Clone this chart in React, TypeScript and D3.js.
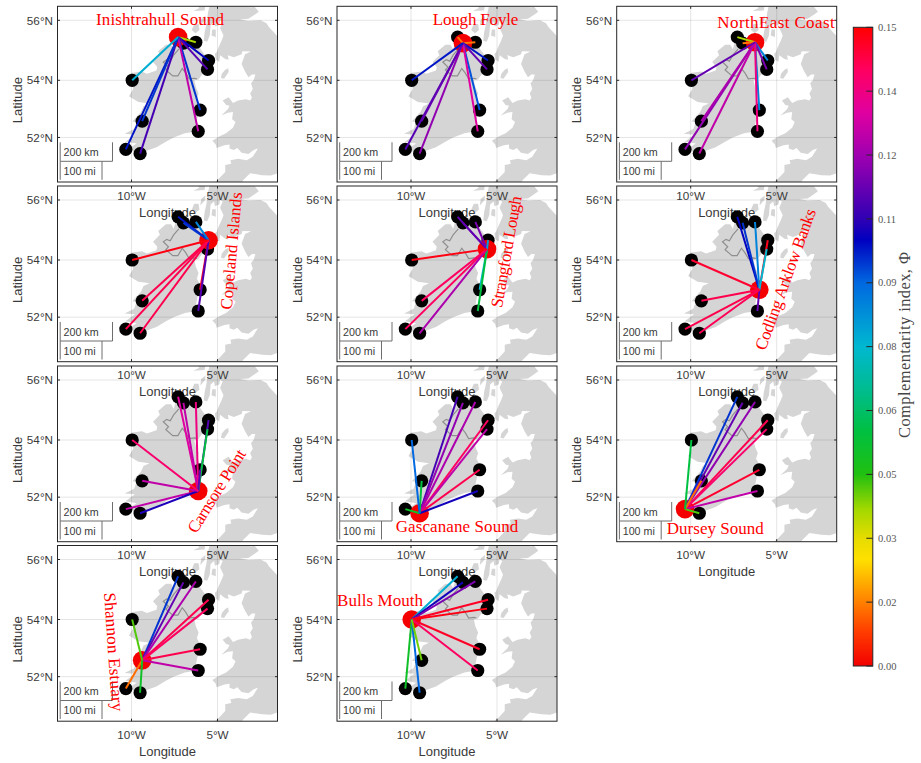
import React from 'react';
import * as d3 from 'd3';

type LonLat = [number, number];

const siteNames = ['Inishtrahull Sound', 'Lough Foyle', 'NorthEast Coast', 'Copeland Islands', 'Strangford Lough',
  'Codling Arklow Banks', 'Carnsore Point', 'Dursey Sound', 'Gascanane Sound', 'Shannon Estuary', 'Bulls Mouth'];

const siteLon = [-7.29, -6.98, -6.26, -5.52, -5.58, -6.01, -6.12, -10.33, -9.5, -9.38, -9.96];
const siteLat = [55.45, 55.25, 55.28, 54.67, 54.37, 52.97, 52.22, 51.57, 51.42, 52.58, 54.0];

// complementarity index per site pair, one row per panel (diagonal unused)
const phi = [
  [0, .014, .036, .1, .11, .095, .125, .098, .108, .095, .077],
  [.014, 0, .014, .098, .112, .092, .13, .11, .118, .112, .098],
  [.036, .014, 0, .085, .115, .085, .135, .118, .125, .122, .112],
  [.098, .095, .085, 0, .08, .146, .11, .142, .142, .142, .148],
  [.112, .112, .115, .08, 0, .075, .055, .14, .122, .14, .148],
  [.1, .095, .085, .147, .075, 0, .112, .142, .141, .142, .145],
  [.13, .125, .135, .11, .055, .112, 0, .125, .103, .125, .138],
  [.095, .112, .118, .142, .138, .145, .125, 0, .042, .013, .055],
  [.108, .118, .122, .14, .125, .142, .102, .05, 0, .055, .09],
  [.095, .112, .122, .142, .14, .142, .125, .013, .05, 0, .042],
  [.077, .102, .115, .146, .148, .146, .14, .05, .09, .04, 0],
];

const colorStops = [0, .008, .015, .025, .03, .037, .045, .055, .065, .075, .09, .1, .105, .12, .13, .14, .15];
const colorValues = ['#f20000', '#ff3c00', '#ff8000', '#ffe000', '#e6dc00', '#a0d800', '#20c010', '#00c040', '#00bc90',
  '#00b8d0', '#0068e0', '#0000c0', '#3000b4', '#a000b0', '#e000a0', '#ff0060', '#ff0000'];

const cbarTicks = [0, .015, .03, .045, .06, .075, .09, .105, .12, .135, .15];
const cbarLabels = ['0.00', '0.02', '0.03', '0.05', '0.06', '0.08', '0.09', '0.11', '0.12', '0.14', '0.15'];

const lonTicks = [-10, -5];
const latTicks = [56, 54, 52];

const ireland: LonLat[] = [[-7.4, 55.38], [-7.25, 55.3], [-7.0, 55.2], [-6.95, 55.17], [-6.5, 55.24], [-6.1, 55.22], [-5.98, 55.05],
  [-5.72, 54.85], [-5.9, 54.67], [-5.55, 54.68], [-5.45, 54.45], [-5.6, 54.25], [-5.9, 54.2], [-6.1, 54.03], [-6.35, 54.0],
  [-6.25, 53.75], [-6.1, 53.55], [-6.2, 53.35], [-6.05, 53.2], [-6.0, 52.95], [-6.15, 52.75], [-6.25, 52.45], [-6.36, 52.2],
  [-6.9, 52.15], [-7.55, 52.0], [-8.0, 51.85], [-8.55, 51.65], [-9.2, 51.5], [-9.8, 51.45], [-10.15, 51.6], [-9.7, 51.78],
  [-10.35, 51.85], [-9.8, 52.1], [-10.4, 52.13], [-9.85, 52.3], [-9.7, 52.55], [-9.95, 52.57], [-9.45, 52.9], [-9.3, 53.1],
  [-8.95, 53.2], [-9.6, 53.25], [-10.15, 53.45], [-9.9, 53.7], [-10.05, 54.25], [-9.4, 54.3], [-9.1, 54.22], [-8.55, 54.33],
  [-8.5, 54.45], [-8.75, 54.62], [-8.35, 54.85], [-8.45, 54.98], [-8.0, 55.2], [-7.7, 55.2], [-7.55, 55.05], [-7.45, 55.25]];

const britain: LonLat[] = [[-6.2, 57.2], [-6.2, 56.75], [-5.8, 56.55], [-5.45, 56.5], [-5.55, 56.25], [-5.6, 56.05], [-5.65, 55.85],
  [-5.75, 55.6], [-5.8, 55.33], [-5.6, 55.3], [-5.45, 55.5], [-5.4, 55.85], [-5.2, 55.95], [-5.15, 55.8], [-4.9, 55.85],
  [-4.85, 56.0], [-4.7, 55.95], [-4.85, 55.75], [-4.65, 55.5], [-4.75, 55.35], [-4.95, 55.1], [-5.05, 54.95], [-5.15, 54.9],
  [-5.1, 54.7], [-4.9, 54.63], [-4.85, 54.85], [-4.55, 54.72], [-4.35, 54.7], [-4.4, 54.85], [-4.05, 54.78], [-3.6, 54.88],
  [-3.55, 54.98], [-3.05, 54.97], [-3.4, 54.88], [-3.6, 54.55], [-3.4, 54.3], [-3.2, 54.1], [-3.0, 54.2], [-2.8, 54.2],
  [-2.9, 54.0], [-3.05, 53.9], [-2.95, 53.7], [-3.1, 53.55], [-3.0, 53.4], [-3.1, 53.3], [-3.35, 53.35], [-3.8, 53.3],
  [-4.1, 53.22], [-4.35, 53.42], [-4.7, 53.3], [-4.5, 53.15], [-4.3, 53.12], [-4.4, 53.0], [-4.78, 52.78], [-4.4, 52.88],
  [-4.1, 52.9], [-4.15, 52.65], [-3.95, 52.55], [-4.1, 52.35], [-4.5, 52.15], [-4.85, 52.05], [-5.3, 51.88], [-5.1, 51.75],
  [-5.05, 51.62], [-4.6, 51.72], [-4.3, 51.75], [-4.3, 51.6], [-4.05, 51.55], [-3.85, 51.62], [-3.6, 51.45], [-3.2, 51.4],
  [-2.9, 51.55], [-2.65, 51.6], [-2.95, 51.3], [-3.3, 51.18], [-3.8, 51.23], [-4.25, 51.18], [-4.2, 51.05], [-4.55, 51.0],
  [-4.55, 50.75], [-5.0, 50.45], [-5.3, 50.3], [-5.7, 50.1], [-5.1, 50.0], [-4.9, 50.2], [-4.2, 50.35], [-3.7, 50.25],
  [-3.5, 50.45], [-3.1, 50.7], [-2.4, 50.63], [-1.9, 50.62], [-1.0, 50.8], [0, 50.8], [0, 54.5], [-1.2, 54.65], [-1.4, 55.0],
  [-1.55, 55.5], [-2.0, 55.77], [-2.15, 55.9], [-2.5, 56.0], [-3.2, 55.98], [-3.7, 56.03], [-3.2, 56.05], [-2.8, 56.2],
  [-2.6, 56.28], [-2.85, 56.45], [-3.2, 56.4], [-2.7, 56.5], [-2.4, 56.7], [-2.0, 57.2]];

const isleOfMan: LonLat[] = [[-4.8, 54.08], [-4.62, 54.05], [-4.35, 54.28], [-4.38, 54.41], [-4.55, 54.36], [-4.75, 54.22]];
const islay: LonLat[] = [[-6.5, 55.68], [-6.28, 55.58], [-6.05, 55.68], [-6.1, 55.88], [-6.35, 55.88]];
const jura: LonLat[] = [[-6.0, 55.82], [-5.72, 56.0], [-5.7, 56.15], [-5.95, 56.03]];
const arran: LonLat[] = [[-5.35, 55.5], [-5.1, 55.45], [-5.1, 55.7], [-5.3, 55.7]];
const mull: LonLat[] = [[-6.4, 56.3], [-5.75, 56.32], [-5.7, 56.5], [-6.1, 56.65], [-6.3, 56.55], [-6.05, 56.4]];
const landShapes = [ireland, britain, isleOfMan, islay, jura, arran, mull];

const border: LonLat[] = [[-7.25, 55.05], [-7.55, 54.85], [-7.75, 54.65], [-7.95, 54.7], [-8.15, 54.62], [-7.85, 54.45], [-8.0, 54.35],
  [-7.6, 54.15], [-7.3, 54.15], [-7.05, 54.4], [-6.85, 54.25], [-6.65, 54.05], [-6.35, 54.07], [-6.2, 54.05]];

// panel layout
const colX = [57.5, 337, 616.7];
const rowY = [6.3, 186, 366, 545.5];
const panelW = 220;
const panelH = 175.7;
const panelCell: [number, number][] = [[0, 0], [0, 1], [0, 2], [1, 0], [1, 1], [1, 2], [2, 0], [2, 2], [2, 1], [3, 0], [3, 1]];

// label placement: centre x, centre y, rotation, text length
const labelPlace: [number, number, number, number][] = [
  [160, 21, 0, 128], [475.5, 21, 0, 85.7], [776, 24.3, 0, 117.3],
  [233, 251, -85, 118], [508, 252, -80, 113], [787, 280, -70, 149],
  [218, 492, -58, 95], [715.3, 530, 0, 97], [457, 528.3, 0, 122.7],
  [112, 652, 86, 119], [380, 601.7, 0, 86],
];

const sans = '"Liberation Sans", Arial, sans-serif';
const serif = '"Liberation Serif", serif';
const textColor = '#3a3a3a';

const color = d3.scaleLinear<string>().domain(colorStops).range(colorValues).interpolate(d3.interpolateRgb);

function makeProjection(i: number) {
  const [r, c] = panelCell[i];
  const proj = d3.geoMercator().scale(985.5).translate([0, 0]);
  const [ax, ay] = proj([-10, 56]) as [number, number];
  return proj.translate([colX[c] + 74 - ax, rowY[r] + 14 - ay]);
}

function pathOf(proj: d3.GeoProjection, pts: LonLat[], closed: boolean) {
  const line = d3.line<LonLat>().x(d => (proj(d) as number[])[0]).y(d => (proj(d) as number[])[1]);
  return line(pts) + (closed ? 'Z' : '');
}

function PanelBase({ i }: { i: number }) {
  const [r, c] = panelCell[i];
  const proj = makeProjection(i);
  const x0 = colX[c], y0 = rowY[r];
  return (
    <g>
      <clipPath id={`clip${i}`}><rect x={x0} y={y0} width={panelW} height={panelH} /></clipPath>
      <g clipPath={`url(#clip${i})`}>
        {landShapes.map((s, k) => <path key={k} d={pathOf(proj, s, true)} fill="#d5d5d5" />)}
        <path d={pathOf(proj, border, false)} fill="none" stroke="#8f8f8f" strokeWidth={1.2} />
        {lonTicks.map(t => {
          const x = (proj([t, 55]) as number[])[0];
          return <line key={t} x1={x} x2={x} y1={y0} y2={y0 + panelH} stroke="#262626" strokeOpacity={0.12} />;
        })}
        {latTicks.map(t => {
          const y = (proj([-8, t]) as number[])[1];
          return <line key={t} x1={x0} x2={x0 + panelW} y1={y} y2={y} stroke="#262626" strokeOpacity={0.12} />;
        })}
      </g>
      <rect x={x0} y={y0} width={panelW} height={panelH} fill="none" stroke="#262626" strokeWidth={1} />
      {lonTicks.map(t => {
        const x = (proj([t, 55]) as number[])[0];
        return (
          <g key={t} stroke="#262626">
            <line x1={x} x2={x} y1={y0} y2={y0 + 2.5} />
            <line x1={x} x2={x} y1={y0 + panelH} y2={y0 + panelH - 2.5} />
          </g>
        );
      })}
      {latTicks.map(t => {
        const y = (proj([-8, t]) as number[])[1];
        return (
          <g key={t} stroke="#262626">
            <line x1={x0} x2={x0 + 2.5} y1={y} y2={y} />
            <line x1={x0 + panelW} x2={x0 + panelW - 2.5} y1={y} y2={y} />
          </g>
        );
      })}
    </g>
  );
}

function PanelLabels({ i }: { i: number }) {
  const [r, c] = panelCell[i];
  const proj = makeProjection(i);
  const x0 = colX[c], y0 = rowY[r];
  return (
    <g fontFamily={sans} fill={textColor}>
      {lonTicks.map(t => (
        <text key={t} x={(proj([t, 55]) as number[])[0]} y={y0 + panelH + 17.5} fontSize={11.7} textAnchor="middle">
          {Math.abs(t)}°W
        </text>
      ))}
      {latTicks.map(t => (
        <text key={t} x={x0 - 4.5} y={(proj([-8, t]) as number[])[1] + 4.2} fontSize={11.7} textAnchor="end">
          {t}°N
        </text>
      ))}
      <text x={x0 + panelW / 2} y={y0 + panelH + 34.5} fontSize={13} textAnchor="middle">Longitude</text>
      <text transform={`translate(${x0 - 35.5},${y0 + panelH / 2 + 6}) rotate(-90)`} fontSize={13} textAnchor="middle">Latitude</text>
    </g>
  );
}

function PanelMarks({ i }: { i: number }) {
  const [r, c] = panelCell[i];
  const proj = makeProjection(i);
  const x0 = colX[c], y0 = rowY[r];
  const pts = siteLon.map((lon, k) => proj([lon, siteLat[k]]) as [number, number]);
  const [lx, ly, rot, len] = labelPlace[i];
  return (
    <g>
      {pts.map((p, k) => k !== i && <circle key={k} cx={p[0]} cy={p[1]} r={6.6} fill="#000" />)}
      <circle cx={pts[i][0]} cy={pts[i][1]} r={9.3} fill="#f50000" />
      {pts.map((p, k) => k !== i && (
        <line key={k} x1={pts[i][0]} y1={pts[i][1]} x2={p[0]} y2={p[1]} stroke={color(phi[i][k])} strokeWidth={2} />
      ))}
      <g stroke="#6e6e6e" strokeWidth={1} fill="none">
        <path d={`M${x0 + 2.7},${y0 + 136}V${y0 + 155}H${x0 + 55}V${y0 + 136}`} />
        <path d={`M${x0 + 2.7},${y0 + 155}V${y0 + 173.5}M${x0 + 44.5},${y0 + 155}V${y0 + 173.5}`} />
      </g>
      <g fontFamily={sans} fontSize={10.7} fill={textColor}>
        <text x={x0 + 6} y={y0 + 149.5}>200 km</text>
        <text x={x0 + 6} y={y0 + 168.5}>100 mi</text>
      </g>
      <text transform={`translate(${lx},${ly}) rotate(${rot})`} fontFamily={serif} fontSize={17} fill="#ff0000"
        textAnchor="middle" dominantBaseline="middle" textLength={len} lengthAdjust="spacing">
        {siteNames[i]}
      </text>
    </g>
  );
}

function ColorBar() {
  const x = 853.3, w = 19.5;
  const y = d3.scaleLinear().domain([0, .15]).range([666, 27.3]);
  return (
    <g>
      <defs>
        <linearGradient id="cbar" x1="0" y1="1" x2="0" y2="0">
          {colorStops.map((s, k) => <stop key={k} offset={s / .15} stopColor={colorValues[k]} />)}
        </linearGradient>
      </defs>
      <rect x={x} y={y(.15)} width={w} height={y(0) - y(.15)} fill="url(#cbar)" stroke="#262626" strokeWidth={1} />
      {cbarTicks.map((t, k) => (
        <g key={t}>
          <line x1={x + w - 6.5} x2={x + w} y1={y(t)} y2={y(t)} stroke="#262626" />
          <text x={878} y={y(t) + 3.6} fontFamily={serif} fontSize={10.5} fill="#555">{cbarLabels[k]}</text>
        </g>
      ))}
      <text transform="translate(910,345) rotate(-90)" fontFamily={serif} fontSize={16.5} fill="#444"
        textAnchor="middle" textLength={186} lengthAdjust="spacing">
        Complementarity index, Φ
      </text>
    </g>
  );
}

export default function App() {
  return (
    <svg width={921} height={763} style={{ position: 'absolute', left: 0, top: 0, background: '#fff' }}>
      {panelCell.map((_, i) => <PanelBase key={i} i={i} />)}
      {panelCell.map((_, i) => <PanelLabels key={i} i={i} />)}
      {panelCell.map((_, i) => <PanelMarks key={i} i={i} />)}
      <ColorBar />
    </svg>
  );
}
